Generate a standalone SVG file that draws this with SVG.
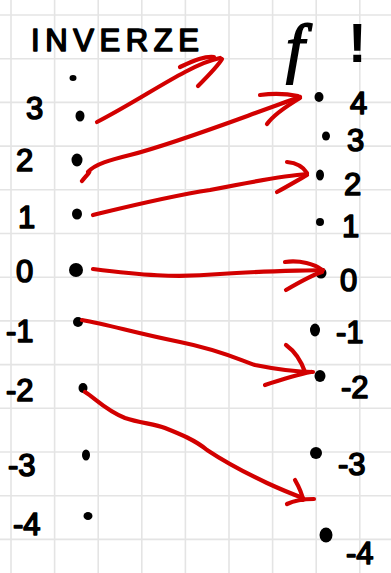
<svg xmlns="http://www.w3.org/2000/svg" width="391" height="573" viewBox="0 0 391 573">
<style>
.grid line{stroke:#e4e4e4;stroke-width:1.6}
.lbl{font-family:"Liberation Sans",Arial,sans-serif;font-size:31px;fill:#000;stroke:#000;stroke-width:1.6;stroke-linejoin:round}
.dot{fill:#000}
.arr path{fill:none;stroke:#d20000;stroke-width:4.2;stroke-linecap:round;stroke-linejoin:round}
</style>
<rect width="391" height="573" fill="#fff"/>
<g class="grid">
<line x1="11" y1="0" x2="11" y2="573"/><line x1="54.6" y1="0" x2="54.6" y2="573"/><line x1="98.2" y1="0" x2="98.2" y2="573"/><line x1="141.8" y1="0" x2="141.8" y2="573"/><line x1="185.4" y1="0" x2="185.4" y2="573"/><line x1="229" y1="0" x2="229" y2="573"/><line x1="272.6" y1="0" x2="272.6" y2="573"/><line x1="316.2" y1="0" x2="316.2" y2="573"/><line x1="359.8" y1="0" x2="359.8" y2="573"/>
<line x1="0" y1="15" x2="391" y2="15"/><line x1="0" y1="58.7" x2="391" y2="58.7"/><line x1="0" y1="102.4" x2="391" y2="102.4"/><line x1="0" y1="146.1" x2="391" y2="146.1"/><line x1="0" y1="189.8" x2="391" y2="189.8"/><line x1="0" y1="233.5" x2="391" y2="233.5"/><line x1="0" y1="277.2" x2="391" y2="277.2"/><line x1="0" y1="320.9" x2="391" y2="320.9"/><line x1="0" y1="364.6" x2="391" y2="364.6"/><line x1="0" y1="408.3" x2="391" y2="408.3"/><line x1="0" y1="452" x2="391" y2="452"/><line x1="0" y1="495.7" x2="391" y2="495.7"/><line x1="0" y1="539.4" x2="391" y2="539.4"/>
</g>
<g id="title">
<text class="lbl" x="31" y="51" font-size="31" textLength="168" lengthAdjust="spacing">INVERZE</text>
<text x="286" y="70" font-family="Liberation Serif,serif" font-style="italic" font-size="66" fill="#000" stroke="#000" stroke-width="1.8">f</text>
<text x="348" y="62" font-family="Liberation Sans,sans-serif" font-size="56" font-weight="bold" fill="#000">!</text>
</g>
<g id="left-nodes">
<g id="L-top"><ellipse class="dot" cx="73" cy="78" rx="3.5" ry="3"/></g>
<g id="L3"><text class="lbl" x="26" y="119">3</text><ellipse class="dot" cx="80" cy="116" rx="4.5" ry="5.5"/></g>
<g id="L2"><text class="lbl" x="16" y="171">2</text><ellipse class="dot" cx="77" cy="160" rx="5.5" ry="6.5"/></g>
<g id="L1"><text class="lbl" x="18" y="228">1</text><ellipse class="dot" cx="77" cy="214" rx="5" ry="5.5"/></g>
<g id="L0"><text class="lbl" x="16" y="282">0</text><ellipse class="dot" cx="76" cy="270" rx="7" ry="7"/></g>
<g id="Lm1"><text class="lbl" x="6" y="342">-1</text><ellipse class="dot" cx="78" cy="322" rx="5" ry="5"/></g>
<g id="Lm2"><text class="lbl" x="6" y="401">-2</text><ellipse class="dot" cx="83" cy="388" rx="4.5" ry="5"/></g>
<g id="Lm3"><text class="lbl" x="8" y="476">-3</text><ellipse class="dot" cx="86" cy="455" rx="4" ry="5.5"/></g>
<g id="Lm4"><text class="lbl" x="13" y="535">-4</text><ellipse class="dot" cx="88" cy="516" rx="4.5" ry="4"/></g>
</g>
<g id="right-nodes">
<g id="R4"><ellipse class="dot" cx="319" cy="97" rx="4.5" ry="5"/><text class="lbl" x="350" y="114">4</text></g>
<g id="R3"><ellipse class="dot" cx="326" cy="136" rx="4" ry="4.5"/><text class="lbl" x="347" y="151">3</text></g>
<g id="R2"><ellipse class="dot" cx="320" cy="175" rx="4" ry="5.5"/><text class="lbl" x="344" y="195">2</text></g>
<g id="R1"><ellipse class="dot" cx="320" cy="222" rx="4" ry="4"/><text class="lbl" x="342" y="237">1</text></g>
<g id="R0"><ellipse class="dot" cx="321" cy="273" rx="5.5" ry="5.5"/><text class="lbl" x="340" y="291">0</text></g>
<g id="Rm1"><ellipse class="dot" cx="315" cy="330" rx="5" ry="6.5"/><text class="lbl" x="336" y="343">-1</text></g>
<g id="Rm2"><ellipse class="dot" cx="320" cy="376" rx="5.5" ry="6"/><text class="lbl" x="341" y="398">-2</text></g>
<g id="Rm3"><ellipse class="dot" cx="316" cy="453" rx="6" ry="6"/><text class="lbl" x="338" y="475">-3</text></g>
<g id="Rm4"><ellipse class="dot" cx="326" cy="535" rx="6.5" ry="7.5"/><text class="lbl" x="346" y="564">-4</text></g>
</g>
<g id="connectors" class="arr">
<path d="M97,122 C130,105 160,85 185,72 C200,64 210,60 220,58"/>
<path d="M180,67 C195,60 205,56 214,57 M198,86 C208,76 218,66 222,59"/>
<path d="M82,181 C86,176 92,170 88,172 C95,164 110,160 130,155 C180,142 240,118 300,97"/>
<path d="M260,95 C275,93 288,94 298,96 M267,124 C275,113 290,104 300,98"/>
<path d="M93,215 C130,206 170,196 210,190 C245,183 280,176 307,174"/>
<path d="M287,162 C297,163 304,168 307,173 M277,192 C288,186 300,179 307,175"/>
<path d="M93,269 C140,275 175,278 220,274 C260,271 295,271 323,270"/>
<path d="M285,262 C300,260 315,264 322,270 M286,290 C298,283 312,275 322,272"/>
<path d="M82,320 C110,325 135,333 180,342 C220,350 240,360 255,365 C270,368 290,372 313,372"/>
<path d="M286,345 C293,350 300,358 305,372 M265,385 C280,380 295,375 311,372"/>
<path d="M85,392 C95,398 105,410 125,418 C140,423 155,424 165,428 C180,434 195,440 207,450 C225,462 250,475 267,483 C280,489 292,494 303,498"/>
<path d="M295,480 C299,487 302,493 303,500 M287,504 C295,500 305,499 314,499"/>
</g>
</svg>
